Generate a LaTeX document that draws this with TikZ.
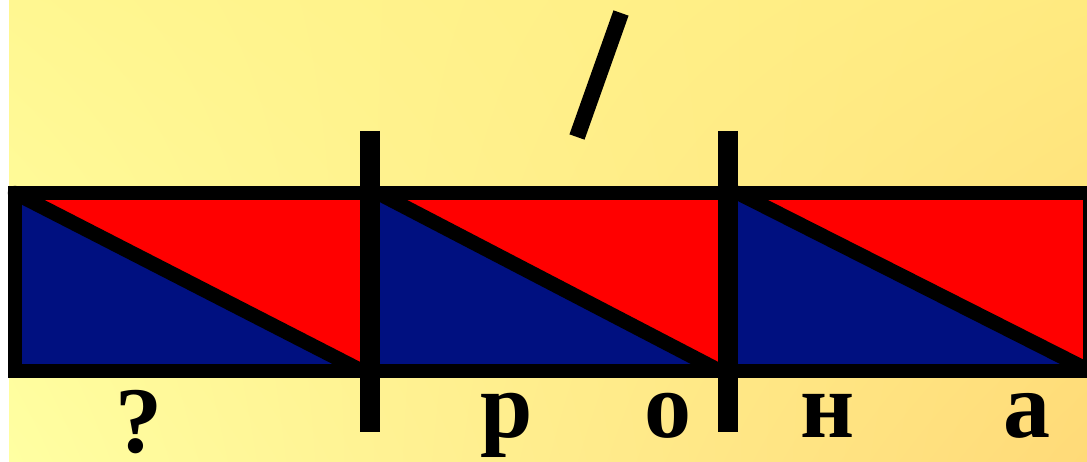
\documentclass[tikz,border=0pt]{standalone}
\usepackage{fontspec}
\setmainfont{Liberation Serif}
\usetikzlibrary{shadings}
\definecolor{navyblue}{RGB}{0,16,128}
\definecolor{bgul}{RGB}{255,247,145}
\definecolor{bgll}{RGB}{255,255,162}
\definecolor{bgur}{RGB}{255,234,128}
\definecolor{bglr}{RGB}{255,218,120}
\tikzset{
  border/.style={line width=14pt, draw=black},
  divider/.style={line width=20pt, draw=black},
  diag/.style={line width=14.5pt, draw=black, line cap=round},
  stress/.style={line width=16pt, draw=black},
  letter/.style={anchor=base, inner sep=0pt, font=\fontsize{94}{100}\selectfont\bfseries}
}
\begin{document}
\begin{tikzpicture}[x=1pt,y=-1pt]
\useasboundingbox (0,0) rectangle (1087,462);
\fill[white] (0,0) rectangle (1087,462);
\shade[upper left=bgul, lower left=bgll, upper right=bgur, lower right=bglr] (9,0) rectangle (1087,462);
\begin{scope}
\clip (0,0) rectangle (1087,462);
% coordinates
\coordinate (tl) at (15,193);
\coordinate (br) at (1090,371);
\coordinate (a1) at (15,193);   \coordinate (b1) at (362,371);
\coordinate (a2) at (378,193);  \coordinate (b2) at (720,371);
\coordinate (a3) at (738,193);  \coordinate (b3) at (1090,371);
% fills
\fill[navyblue] (tl) rectangle (br);
\fill[red] (a1) -- (b1) -- (b1 |- a1) -- cycle;
\fill[red] (a2) -- (b2) -- (b2 |- a2) -- cycle;
\fill[red] (a3) -- (b3) -- (b3 |- a3) -- cycle;
% diagonals
\draw[diag] (a1) -- (b1);
\draw[diag] (a2) -- (b2);
\draw[diag] (a3) -- (b3);
% border
\draw[border] (tl) rectangle (br);
% dividers
\coordinate (d1t) at (370,131); \coordinate (d1b) at (370,432);
\coordinate (d2t) at (728,131); \coordinate (d2b) at (728,432);
\draw[divider] (d1t) -- (d1b);
\draw[divider] (d2t) -- (d2b);
\end{scope}
% stress mark
\coordinate (s1) at (621,13);
\coordinate (s2) at (577,137);
\draw[stress] (s1) -- (s2);
% letters
\node[letter] (q) at (139,452) {?};
\node[letter] (r) at (507,437) {р};
\node[letter] (o) at (668,437) {о};
\node[letter] (n) at (828,437) {н};
\node[letter] (a) at (1027,437) {а};
\end{tikzpicture}
\end{document}
